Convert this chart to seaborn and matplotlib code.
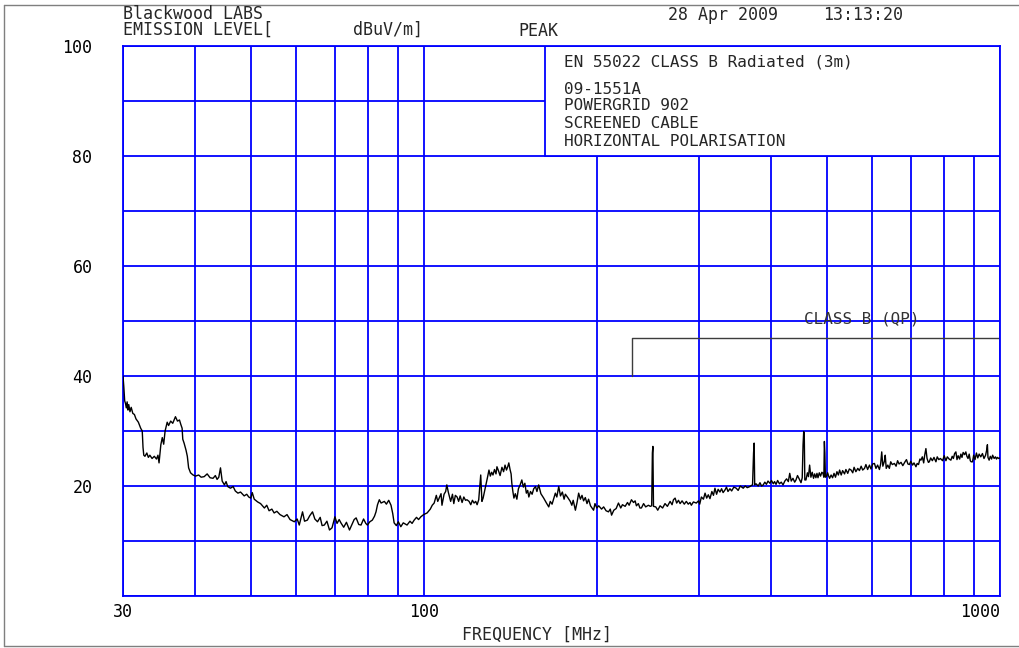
import numpy as np
import pandas as pd
import matplotlib
matplotlib.use("Agg")
import matplotlib.pyplot as plt
import seaborn as sns
from matplotlib.patches import Rectangle
from matplotlib.lines import Line2D
from matplotlib.ticker import FixedLocator, NullFormatter

sns.set_style("white")
plt.rcParams['font.family'] = ['DejaVu Sans Mono', 'DejaVu Sans']

# =====================================================
# DATA  (frequency MHz, level dBuV/m)
# =====================================================
trace_30_60 = [
    (30.0, 40.0), (30.1, 38.0), (30.2, 35.5), (30.3, 35.0), (30.4, 34.2),
    (30.5, 35.3), (30.6, 33.8), (30.7, 34.8), (30.85, 33.5), (31.0, 34.3),
    (31.2, 33.2), (31.4, 33.0), (31.6, 32.2), (31.9, 31.6), (32.2, 30.5),
    (32.4, 30.0), (32.5, 27.0), (32.6, 25.6), (32.75, 25.4), (33.0, 26.0),
    (33.2, 25.2), (33.4, 25.6), (33.7, 25.0), (34.0, 25.4), (34.3, 24.9),
    (34.5, 25.6), (34.65, 24.2), (34.9, 27.5), (35.1, 28.8), (35.3, 27.6),
    (35.5, 30.0), (35.8, 31.6), (36.0, 31.0), (36.3, 31.8), (36.6, 31.4),
    (37.0, 32.6), (37.3, 31.8), (37.6, 32.0), (37.8, 31.2), (38.0, 30.5),
    (38.1, 28.5), (38.3, 27.8), (38.6, 26.5), (38.8, 25.4), (39.0, 23.3),
    (39.3, 22.4), (39.7, 22.0), (40.1, 21.8), (40.6, 22.0), (41.0, 21.6),
    (41.5, 21.7), (42.0, 22.2), (42.5, 21.5), (43.0, 21.4), (43.4, 21.9),
    (43.7, 21.2), (44.0, 21.6), (44.3, 23.3), (44.6, 20.9), (45.0, 20.2),
    (45.3, 20.8), (45.6, 19.9), (46.1, 19.6), (46.6, 19.9), (47.0, 19.1),
    (47.5, 18.7), (48.0, 18.9), (48.7, 18.2), (49.2, 18.5), (49.6, 18.0),
    (50.0, 17.8), (50.3, 18.8), (50.7, 17.6), (51.4, 17.1), (52.0, 16.8),
    (52.8, 16.0), (53.3, 16.5), (53.8, 15.5), (54.4, 15.8), (54.9, 15.1),
    (55.5, 15.4), (56.2, 14.8), (57.1, 14.4), (57.8, 14.8), (58.5, 13.9),
    (59.5, 13.5),
]

trace_60_120 = [
    (60.2, 14.0), (60.7, 12.9), (61.5, 15.3), (62.0, 13.6), (62.7, 13.8),
    (63.3, 14.6), (64.0, 15.3), (64.6, 14.0), (65.3, 13.5), (66.0, 14.3),
    (66.5, 12.8), (67.1, 12.9), (67.8, 13.6), (68.5, 12.0), (69.2, 12.4),
    (70.0, 14.4), (70.6, 13.2), (71.2, 13.9), (71.7, 13.3), (72.5, 12.5),
    (73.3, 13.4), (74.2, 12.0), (75.0, 13.1), (75.6, 13.9), (76.2, 14.2),
    (77.0, 13.0), (77.7, 12.9), (78.5, 14.0), (79.2, 13.2), (79.7, 12.9),
    (80.5, 13.5), (81.3, 13.8), (82.0, 14.5), (82.5, 15.3), (83.0, 16.6),
    (83.6, 17.5), (84.2, 16.9), (85.3, 17.2), (86.0, 16.7), (86.8, 17.4),
    (87.6, 16.5), (88.2, 15.0), (88.7, 13.3), (89.5, 12.8), (90.2, 13.5),
    (91.1, 12.6), (92.0, 13.3), (93.4, 12.9), (94.5, 13.6), (95.3, 13.2),
    (96.1, 13.8), (97.0, 14.3), (97.8, 13.9), (98.7, 14.4), (99.8, 14.8),
    (101.2, 15.1), (102.5, 15.8), (103.3, 16.5), (104.1, 16.9), (105.0, 18.3),
    (105.6, 17.2), (106.2, 17.8), (107.0, 18.6), (107.4, 16.5), (108.3, 18.5),
    (109.0, 19.0), (109.5, 20.2), (110.2, 18.8), (111.2, 17.2), (112.0, 18.5),
    (112.6, 16.8), (113.3, 18.3), (114.1, 18.0), (114.8, 17.2), (115.5, 18.2),
    (116.4, 17.0), (117.2, 18.0), (118.0, 17.4), (118.7, 17.5), (119.7, 17.2),
]

trace_120_250 = [
    (120.5, 16.6), (121.3, 17.4), (122.1, 16.9), (122.9, 17.2), (123.6, 16.6),
    (124.4, 17.5), (125.4, 22.0), (126.0, 17.2), (126.6, 17.8), (127.2, 18.8),
    (127.9, 19.9), (128.8, 21.5), (129.6, 22.9), (130.3, 21.8), (131.0, 22.5),
    (131.7, 22.0), (132.5, 23.0), (133.3, 22.2), (133.8, 23.5), (134.6, 22.8),
    (135.5, 21.9), (136.5, 23.4), (137.4, 22.6), (138.2, 23.8), (139.0, 22.9),
    (139.7, 23.5), (140.3, 24.2), (141.0, 23.0), (141.6, 22.2), (142.0, 20.5),
    (142.6, 19.0), (143.2, 17.8), (144.0, 18.6), (144.9, 17.6), (145.8, 19.5),
    (146.8, 20.2), (147.8, 21.1), (148.7, 19.8), (149.6, 20.5), (150.5, 18.7),
    (151.3, 19.2), (152.0, 18.0), (153.0, 19.0), (154.0, 18.5), (155.0, 19.5),
    (156.1, 19.9), (157.0, 19.0), (158.1, 20.2), (159.5, 18.6), (161.3, 17.8),
    (162.9, 17.0), (164.6, 16.2), (165.6, 17.2), (166.8, 16.7), (169.0, 18.7),
    (170.0, 18.0), (171.3, 19.9), (172.5, 18.2), (173.8, 18.9), (175.0, 17.6),
    (175.9, 18.5), (177.6, 17.9), (179.4, 17.2), (180.5, 16.5), (181.5, 17.4),
    (183.1, 15.6), (184.3, 17.0), (185.5, 18.7), (186.8, 17.6), (188.0, 18.3),
    (189.2, 17.3), (190.5, 17.9), (191.8, 16.8), (193.0, 17.6), (194.5, 16.4),
    (196.9, 15.6), (198.0, 16.8), (199.5, 16.0), (201.0, 16.4), (203.3, 15.8),
    (205.0, 16.2), (207.0, 15.5), (209.0, 15.3), (210.5, 15.8), (211.6, 14.7),
    (213.5, 15.6), (215.5, 15.9), (217.5, 16.9), (219.5, 16.0), (221.0, 16.6),
    (223.4, 16.3), (225.5, 17.0), (227.0, 16.5), (229.1, 17.5), (231.0, 17.0),
    (232.5, 17.3), (233.7, 16.4), (235.5, 16.8), (237.0, 16.0), (238.4, 16.0),
    (240.5, 16.8), (242.5, 16.2), (245.2, 16.5), (247.0, 16.3), (248.4, 16.4),
    (249.1, 26.0), (249.6, 27.2), (250.2, 16.3),
]

trace_250_500 = [
    (252.5, 16.2), (254.5, 15.6), (256.9, 16.4), (259.5, 16.0), (262.0, 16.8),
    (264.5, 16.3), (267.4, 17.2), (269.5, 16.6), (271.0, 17.5), (272.8, 17.8),
    (274.5, 16.9), (276.5, 17.4), (278.3, 16.8), (280.5, 17.3), (283.0, 16.7),
    (285.3, 17.2), (287.5, 16.7), (289.5, 17.0), (291.1, 16.5), (293.5, 17.1),
    (296.9, 16.9), (299.5, 17.3), (301.0, 16.7), (303.0, 18.0), (305.5, 17.6),
    (307.5, 18.7), (309.5, 17.8), (311.5, 18.4), (313.6, 17.7), (316.0, 19.0),
    (318.0, 18.3), (319.9, 19.6), (322.0, 18.5), (324.0, 19.4), (326.4, 18.9),
    (328.5, 19.5), (330.5, 18.8), (333.1, 19.3), (335.0, 19.8), (337.0, 19.0),
    (339.7, 19.5), (342.0, 19.1), (345.0, 19.8), (348.3, 19.6), (351.0, 19.2),
    (354.0, 20.0), (358.2, 19.6), (361.0, 20.0), (364.0, 19.7), (367.9, 19.9),
    (370.0, 20.1), (371.8, 20.2), (373.3, 26.0), (374.2, 27.8), (375.0, 20.2),
    (377.0, 20.4), (380.3, 20.0), (383.0, 20.6), (385.5, 20.0), (388.0, 20.2),
    (390.5, 20.7), (393.0, 20.3), (395.5, 20.9), (398.5, 20.5), (401.0, 21.0),
    (404.0, 20.4), (406.0, 20.8), (408.4, 20.3), (411.0, 21.0), (414.0, 20.4),
    (417.0, 20.7), (420.0, 20.2), (423.0, 20.9), (426.0, 21.3), (429.0, 20.8),
    (431.4, 22.3), (434.0, 20.9), (437.0, 21.4), (440.0, 20.7), (442.3, 21.1),
    (445.0, 21.9), (448.0, 21.3), (451.3, 20.6), (453.5, 21.5), (455.0, 27.5),
    (456.2, 29.9), (457.2, 29.5), (458.2, 21.1), (460.3, 21.1), (463.0, 22.4),
    (465.0, 21.7), (467.1, 23.8), (469.5, 21.6), (472.0, 22.5), (474.5, 21.4),
    (476.6, 22.2), (479.0, 21.5), (481.0, 22.3), (483.0, 21.5), (485.5, 22.4),
    (488.0, 21.8), (490.5, 22.5), (492.7, 22.3), (494.5, 21.6), (495.5, 28.1),
    (496.5, 26.0), (497.5, 21.6), (499.3, 21.7),
]

trace_500_1000 = [
    (502.0, 22.4), (504.0, 21.8), (506.0, 21.4), (509.0, 22.0), (512.0, 21.5),
    (515.0, 22.3), (518.0, 21.6), (521.0, 22.6), (524.0, 22.0), (526.6, 22.9),
    (530.0, 22.0), (533.0, 22.8), (537.1, 22.2), (540.0, 23.0), (544.0, 22.3),
    (547.5, 23.1), (551.4, 22.9), (555.0, 22.4), (558.0, 23.4), (562.0, 22.6),
    (566.3, 23.2), (570.0, 22.8), (574.0, 23.6), (577.5, 22.9), (581.7, 23.2),
    (585.0, 23.9), (589.0, 23.0), (593.4, 23.8), (597.0, 23.1), (601.0, 24.0),
    (605.3, 24.1), (609.0, 23.2), (613.0, 23.8), (617.5, 23.0), (620.5, 24.0),
    (623.2, 26.2), (626.0, 23.6), (629.9, 24.5), (632.0, 25.6), (634.5, 23.2),
    (638.5, 23.8), (642.5, 23.2), (646.0, 24.4), (650.0, 23.9), (655.6, 24.1),
    (660.0, 23.6), (664.0, 24.6), (668.0, 24.0), (673.2, 24.3), (678.0, 23.7),
    (684.0, 24.4), (688.0, 24.8), (692.0, 24.0), (696.1, 23.9), (700.0, 24.5),
    (705.0, 23.8), (709.0, 24.2), (714.6, 23.5), (718.0, 24.1), (722.0, 23.9),
    (726.0, 24.9), (729.0, 24.7), (733.0, 25.3), (737.0, 24.2), (740.0, 25.6),
    (743.6, 26.8), (747.0, 25.0), (751.0, 24.3), (753.8, 24.4), (758.0, 25.1),
    (763.0, 24.6), (768.0, 25.2), (774.0, 24.4), (778.0, 25.3), (783.0, 24.8),
    (788.0, 25.0), (795.0, 24.6), (800.0, 25.5), (805.6, 24.6), (810.0, 25.3),
    (816.0, 24.9), (821.7, 24.7), (826.0, 25.4), (830.0, 25.0), (834.0, 25.9),
    (838.3, 26.2), (842.0, 24.8), (846.0, 25.5), (851.0, 24.9), (855.1, 25.8),
    (859.0, 25.2), (863.0, 26.1), (868.0, 25.7), (872.3, 26.2), (876.0, 25.4),
    (880.0, 25.0), (884.1, 25.8), (888.0, 24.6), (891.0, 24.4), (895.9, 24.4),
    (900.0, 25.6), (905.0, 24.8), (910.0, 26.0), (915.0, 25.1), (920.0, 25.8),
    (926.0, 25.3), (932.2, 25.9), (938.0, 25.0), (944.0, 25.6), (948.0, 26.5),
    (950.9, 27.5), (953.0, 25.2), (957.5, 24.7), (962.0, 25.4), (967.0, 24.9),
    (971.0, 25.6), (976.8, 25.0), (982.0, 25.3), (986.0, 24.9), (990.0, 25.2),
    (995.0, 25.0), (1000.0, 25.1),
]

# CLASS B (QP) limit line (the 40 dB part sits under the grid line)
limit_freq = [230, 230, 1000]
limit_level = [40, 47, 47]

x_major = [30, 100, 1000]
x_major_labels = ['30', '100', '1000']
x_minor = [40, 50, 60, 70, 80, 90, 200, 300, 400, 500, 600, 700, 800, 900]
y_major = [20, 40, 60, 80, 100]
y_minor = [0, 10, 30, 50, 70, 90]

info_lines = ['09-1551A', 'POWERGRID 902', 'SCREENED CABLE',
              'HORIZONTAL POLARISATION']

BLUE = '#0000ff'
W, H = 1020, 648


def fx(px):
    return px / W


def fy(py):
    return 1 - py / H


trace = pd.DataFrame(
    trace_30_60 + trace_60_120 + trace_120_250 + trace_250_500 + trace_500_1000,
    columns=['freq', 'level'])

# =====================================================
# FIGURE
# =====================================================
fig = plt.figure(figsize=(W / 100, H / 100), dpi=100)
ax = fig.add_axes([fx(123), fy(596), fx(1000) - fx(123), fy(46) - fy(596)])

ax.set_xscale('log')
ax.set_xlim(30, 1000)
ax.set_ylim(0, 100)

ax.xaxis.set_major_locator(FixedLocator(x_major))
ax.xaxis.set_minor_locator(FixedLocator(x_minor))
ax.xaxis.set_minor_formatter(NullFormatter())
ax.set_xticklabels(x_major_labels)
ax.yaxis.set_major_locator(FixedLocator(y_major))
ax.yaxis.set_minor_locator(FixedLocator(y_minor))
ax.yaxis.set_minor_formatter(NullFormatter())

ax.set_axisbelow(True)
ax.grid(True, which='both', color=BLUE, linewidth=1.3)
ax.tick_params(which='both', length=0, labelsize=12, colors='black')
ax.tick_params(axis='y', pad=22)
ax.tick_params(axis='x', pad=5)
ax.get_xticklabels()[2].set_ha('right')
for s in ax.spines.values():
    s.set_color(BLUE)
    s.set_linewidth(1.3)

# header box inside the plot
ax.add_patch(Rectangle((162, 80), 1000 - 162, 20, facecolor='white',
                       edgecolor=BLUE, linewidth=1.3, zorder=2))

ax.plot(limit_freq, limit_level, color='#3c3c3c', linewidth=1.0, zorder=2.5)

sns.lineplot(data=trace, x='freq', y='level', ax=ax, color='black',
             linewidth=1.0, sort=False, estimator=None, zorder=3)
ax.set_xlabel('')
ax.set_ylabel('')

# =====================================================
# TEXT
# =====================================================
fs = 12
fig.text(fx(123), fy(14), 'Blackwood LABS', fontsize=fs, va='center')
fig.text(fx(123), fy(30), 'EMISSION LEVEL[', fontsize=fs, va='center')
fig.text(fx(353), fy(30), 'dBuV/m]', fontsize=fs, va='center')
fig.text(fx(518), fy(31), 'PEAK', fontsize=fs, va='center')
fig.text(fx(668), fy(15), '28 Apr 2009', fontsize=fs, va='center')
fig.text(fx(823), fy(15), '13:13:20', fontsize=fs, va='center')

fig.text(fx(564), fy(62), 'EN 55022 CLASS B Radiated (3m)', fontsize=11.5,
         va='center')
for py, line in zip([89, 106, 124, 142], info_lines):
    fig.text(fx(564), fy(py), line, fontsize=11.5, va='center')

fig.text(fx(862), fy(319), 'CLASS B (QP)', fontsize=11.5, va='center',
         ha='center', color='#333333')
fig.text(fx(537), fy(635), 'FREQUENCY [MHz]', fontsize=fs, va='center',
         ha='center')

# outer frame
for xs, ys in [([4, 4], [5, 646]), ([4, W], [5, 5]), ([4, W], [646, 646])]:
    fig.add_artist(Line2D([fx(x) for x in xs], [fy(y) for y in ys],
                          color='#7f7f7f', linewidth=1.0))

fig.savefig('out.png', dpi=100)
